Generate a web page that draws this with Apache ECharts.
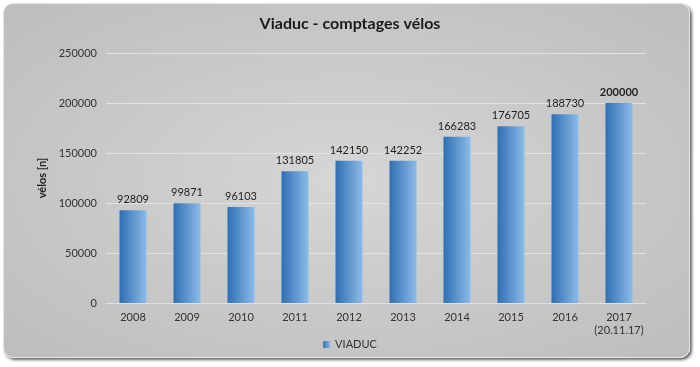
<!DOCTYPE html>
<html><head><meta charset="utf-8">
<script src="https://cdn.jsdelivr.net/npm/echarts@6/dist/echarts.min.js"></script>
<style>
html,body{margin:0;padding:0;background:#fff;}
#bg{position:absolute;left:3px;top:3px;width:685px;height:353px;border-radius:10px;border:1px solid #e6e6e6;box-shadow:2px 2px 3px #666;background:radial-gradient(ellipse at center,#d6d6d6 0%,#c8c8c8 55%,#bdbdbd 100%);}
#chart{position:absolute;left:0;top:0;width:700px;height:367px;}
</style></head>
<body><div id="bg"></div><div id="chart"></div>
<script>
const categories = ['2008','2009','2010','2011','2012','2013','2014','2015','2016','2017\n(20.11.17)'];
const values = [92809, 99871, 96103, 131805, 142150, 142252, 166283, 176705, 188730, 200000];
const seriesName = 'VIADUC';
const titleText = 'Viaduc - comptages vélos';
const yName = 'vélos [n]';

const font = 'Lato, "Open Sans", sans-serif';
const grad = new echarts.graphic.LinearGradient(0,0,1,0,[{offset:0,color:'#2e6fb3'},{offset:1,color:'#8dbbe8'}]);
const chart = echarts.init(document.getElementById('chart'));
chart.setOption({
  backgroundColor:'transparent',
  animation:false,
  title:{text:titleText,left:'center',top:11,textStyle:{fontFamily:font,fontSize:16,fontWeight:'bold',color:'#1a1a1a'}},
  grid:{left:106,right:54,top:53,bottom:64},
  legend:{bottom:12,left:'center',itemWidth:7,itemHeight:7,icon:'rect',itemGap:4,textStyle:{fontFamily:font,fontSize:11,color:'#333'},data:[seriesName]},
  xAxis:{type:'category',data:categories,axisTick:{show:false},
    axisLine:{lineStyle:{color:'#e0e0e0'}},
    axisLabel:{interval:0,fontFamily:font,fontSize:11,color:'#333',margin:8,lineHeight:13}},
  yAxis:{type:'value',min:0,max:250000,interval:50000,name:yName,nameLocation:'middle',nameGap:49,
    nameTextStyle:{fontFamily:font,fontSize:11,fontWeight:'bold',color:'#222'},
    axisLine:{show:false},axisTick:{show:false},
    splitLine:{lineStyle:{color:'#e2e2e2'}},
    axisLabel:{fontFamily:font,fontSize:11,color:'#333',margin:9,formatter:v=>String(v)}},
  series:[{name:seriesName,type:'bar',barWidth:'50%',
    data:values.map((v,i)=>({value:v,label:i===values.length-1?{fontWeight:'bold'}:{}})),
    itemStyle:{color:grad},
    label:{show:true,position:'top',distance:5,fontFamily:font,fontSize:11,color:'#222'}}]
});
</script></body></html>
